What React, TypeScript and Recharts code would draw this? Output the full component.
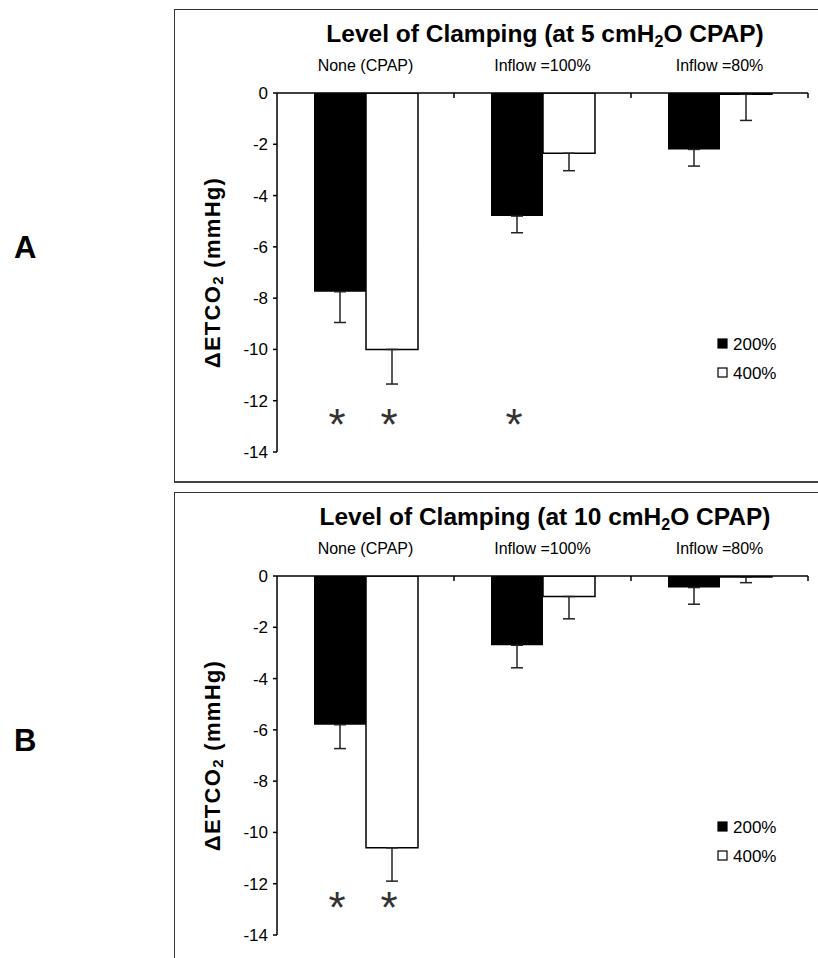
import React from 'react';
import { BarChart, Bar, XAxis, YAxis, ErrorBar, LabelList, Legend, Label } from 'recharts';

const FONT = '"Liberation Sans", Arial, Helvetica, sans-serif';

// Clamping levels along the top axis
const categories = ['None (CPAP)', 'Inflow =100%', 'Inflow =80%'];
const seriesNames = ['200%', '400%'];
const yTicks = [0, -2, -4, -6, -8, -10, -12, -14];

// Panel A: 5 cmH2O CPAP (change in ETCO2, mmHg, mean and SE)
const a200 = [-7.75, -4.8, -2.2];
const a200Err = [1.2, 0.65, 0.65];
const a400 = [-10.0, -2.35, -0.05];
const a400Err = [1.35, 0.68, 1.02];
const aSig200 = [true, true, false];
const aSig400 = [true, false, false];

// Panel B: 10 cmH2O CPAP
const b200 = [-5.8, -2.7, -0.45];
const b200Err = [0.93, 0.88, 0.65];
const b400 = [-10.6, -0.8, -0.04];
const b400Err = [1.3, 0.87, 0.22];
const bSig200 = [true, false, false];
const bSig400 = [true, false, false];

// height at which significance asterisks are printed
const STAR_LEVEL = -12.6;

const CHART_W = 818;
const CHART_H = 483;
const MARGIN = { top: 63, right: 10, bottom: 31, left: 177 };
const Y_AXIS_W = 100;
const PLOT_W = CHART_W - MARGIN.left - MARGIN.right - Y_AXIS_W;

type Row = {
  name: string;
  v200: number;
  e200: [number, number];
  s200: number | null;
  v400: number;
  e400: [number, number];
  s400: number | null;
};

function buildRows(
  v200: number[], e200: number[], s200: boolean[],
  v400: number[], e400: number[], s400: boolean[],
): Row[] {
  return categories.map((name, i) => ({
    name,
    v200: v200[i],
    e200: [e200[i], 0],
    s200: s200[i] ? STAR_LEVEL : null,
    v400: v400[i],
    e400: [e400[i], 0],
    s400: s400[i] ? STAR_LEVEL : null,
  }));
}

const rowsA = buildRows(a200, a200Err, aSig200, a400, a400Err, aSig400);
const rowsB = buildRows(b200, b200Err, bSig200, b400, b400Err, bSig400);

// Category label above the axis, plus a short inward tick on the band's right edge
const CategoryTick = (props: any) => {
  const { x, y, payload } = props;
  const half = PLOT_W / categories.length / 2;
  return (
    <g>
      <text x={x} y={y - 22} textAnchor="middle" fontSize={16} fontFamily={FONT} fill="#000">
        {payload.value}
      </text>
      <line x1={x + half} y1={y} x2={x + half} y2={y + 5} stroke="#000" strokeWidth={1.5} />
    </g>
  );
};

const renderYLabel = (props: any) => {
  const vb = props.viewBox || {};
  const cx = vb.x + 43;
  const cy = vb.y + vb.height / 2;
  return (
    <text
      x={cx}
      y={cy}
      transform={`rotate(-90 ${cx} ${cy})`}
      textAnchor="middle"
      fontSize={22}
      fontWeight="bold"
      letterSpacing={1.3}
      fontFamily={FONT}
      fill="#000"
    >
      ΔETCO<tspan fontSize={15} dy={3}>2</tspan>
      <tspan dy={-3}> (mmHg)</tspan>
    </text>
  );
};

// Asterisk centred under a bar, at STAR_LEVEL on the value scale
const makeStar = (rows: Row[], key: 'v200' | 'v400') => (props: any) => {
  const { value, index } = props;
  if (value === null || value === undefined) return null;
  const vb = props.viewBox || props;
  const barValue = rows[index][key];
  if (!barValue) return null;
  const y0 = Math.min(vb.y, vb.y + vb.height);
  const y1 = Math.max(vb.y, vb.y + vb.height);
  const cy = y0 + ((y1 - y0) * value) / barValue;
  const cx = vb.x + vb.width / 2 - 3;
  return (
    <text x={cx} y={cy + 24} textAnchor="middle" fontSize={44} fontFamily={FONT} fill="#333">
      *
    </text>
  );
};

const renderLegend = (props: any) => {
  const payload = props.payload || [];
  return (
    <svg width={100} height={60} style={{ display: 'block' }}>
      {payload.map((entry: any, i: number) => (
        <g key={entry.value}>
          <rect
            x={6}
            y={9 + i * 29}
            width={9}
            height={9}
            fill={entry.color}
            stroke="#000"
            strokeWidth={1.2}
          />
          <text x={21} y={19.5 + i * 29} fontSize={17} fontFamily={FONT} fill="#000">
            {entry.value}
          </text>
        </g>
      ))}
    </svg>
  );
};

type PanelProps = {
  top: number;
  letter: string;
  letterY: number;
  pressure: string;
  rows: Row[];
  closedBottom: boolean;
};

const Panel = ({ top, letter, letterY, pressure, rows, closedBottom }: PanelProps) => (
  <div style={{ position: 'absolute', left: 0, top, width: CHART_W, height: CHART_H }}>
    <div
      style={{
        position: 'absolute',
        left: 174,
        top: 9,
        width: 700,
        height: closedBottom ? CHART_H - 9 : 600,
        boxSizing: 'border-box',
        borderTop: '1.5px solid #333',
        borderLeft: '1.5px solid #333',
        borderBottom: closedBottom ? '2px solid #444' : 'none',
      }}
    />
    <div style={{ position: 'absolute', left: 0, top: 0 }}>
      <BarChart
        width={CHART_W}
        height={CHART_H}
        data={rows}
        margin={MARGIN}
        barGap={0}
      >
        <XAxis
          dataKey="name"
          type="category"
          orientation="top"
          height={30}
          interval={0}
          tickSize={0}
          tickMargin={0}
          tickLine={false}
          axisLine={{ stroke: '#000', strokeWidth: 1.5 }}
          tick={(p: any) => <CategoryTick {...p} />}
        />
        <YAxis
          type="number"
          domain={[-14, 0]}
          ticks={yTicks}
          interval={0}
          width={Y_AXIS_W}
          tickSize={4}
          tickMargin={5}
          allowDataOverflow
          axisLine={{ stroke: '#000', strokeWidth: 1.5 }}
          tickLine={{ stroke: '#000', strokeWidth: 1.5 }}
          tick={{ fill: '#000', fontSize: 17, fontFamily: FONT }}
        >
          <Label content={renderYLabel} />
        </YAxis>
        <Legend
          layout="vertical"
          align="center"
          verticalAlign="middle"
          wrapperStyle={{ left: 712, top: 330, width: 100, height: 60 }}
          content={renderLegend}
        />
        <Bar
          dataKey="v200"
          name={seriesNames[0]}
          fill="#000"
          barSize={52}
          isAnimationActive={false}
        >
          <ErrorBar dataKey="e200" direction="y" width={6} stroke="#222" strokeWidth={1.5} />
          <LabelList dataKey="s200" content={makeStar(rows, 'v200')} />
        </Bar>
        <Bar
          dataKey="v400"
          name={seriesNames[1]}
          fill="#fff"
          stroke="#000"
          strokeWidth={1.5}
          barSize={52}
          isAnimationActive={false}
        >
          <ErrorBar dataKey="e400" direction="y" width={6} stroke="#222" strokeWidth={1.5} />
          <LabelList dataKey="s400" content={makeStar(rows, 'v400')} />
        </Bar>
      </BarChart>
    </div>
    <svg
      width={CHART_W}
      height={CHART_H}
      style={{ position: 'absolute', left: 0, top: 0, pointerEvents: 'none' }}
    >
      <text x={14} y={letterY} fontSize={31} fontWeight="bold" fontFamily={FONT} fill="#000">
        {letter}
      </text>
      <text
        x={545}
        y={42}
        textAnchor="middle"
        fontSize={24.5}
        fontWeight="bold"
        fontFamily={FONT}
        fill="#000"
      >
        Level of Clamping (at {pressure} cmH<tspan fontSize={16} dy={5}>2</tspan>
        <tspan dy={-5}>O CPAP)</tspan>
      </text>
    </svg>
  </div>
);

export default function App() {
  return (
    <div
      style={{
        position: 'absolute',
        left: 0,
        top: 0,
        width: 818,
        height: 958,
        overflow: 'hidden',
        background: '#fff',
        fontFamily: FONT,
      }}
    >
      <Panel top={0} letter="A" letterY={258} pressure="5" rows={rowsA} closedBottom />
      <Panel top={483} letter="B" letterY={268} pressure="10" rows={rowsB} closedBottom={false} />
    </div>
  );
}
